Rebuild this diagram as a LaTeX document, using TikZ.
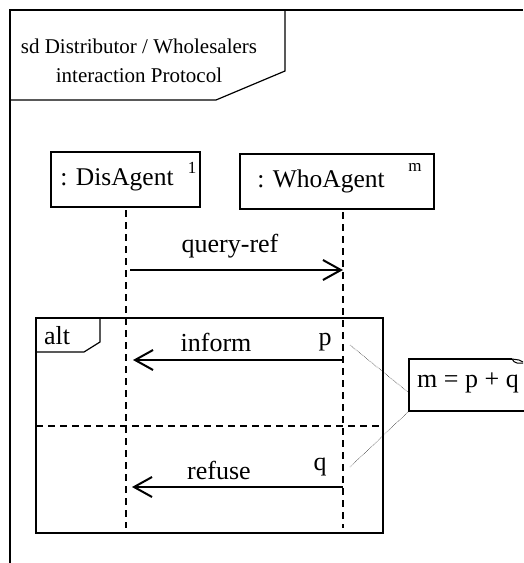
\documentclass[tikz,border=0pt]{standalone}
\usepackage{fontspec}
\setmainfont{Liberation Serif}
\usetikzlibrary{arrows.meta}
\begin{document}
\begin{tikzpicture}[x=1pt,y=-1pt,
  frameline/.style={line width=1.2pt},
  lifeline/.style={line width=1.5pt,dash pattern=on 7pt off 5pt},
  msg/.style={line width=2pt,-{Straight Barb[length=18pt,width=20pt,line width=2pt]}},
  lbl/.style={font=\fontsize{26}{28}\selectfont,inner sep=0pt},
  headlbl/.style={font=\fontsize{25.5}{28}\selectfont,inner sep=0pt},
  multlbl/.style={font=\fontsize{17}{19}\selectfont,inner sep=0pt},
  noteline/.style={line width=0.5pt,densely dotted}]
\useasboundingbox (0,0) rectangle (523,563);
% outer sd frame
\draw[frameline] (10,563) -- (10,10) -- (523,10);
\draw[frameline] (285,10) -- (285,71) -- (216,100) -- (10,100);
\node[align=center,font=\fontsize{21}{29}\selectfont,inner sep=0pt] (title) at (139,61)
  {sd Distributor / Wholesalers\\interaction Protocol};
% lifeline heads
\draw[line width=1.3pt] (51,152) rectangle (200,207);
\node[headlbl] (dis) at (117,180) {: DisAgent};
\node[multlbl] (disn) at (192,168) {1};
\draw[line width=1.3pt] (240,154) rectangle (434,209);
\node[headlbl] (who) at (321,181) {: WhoAgent};
\node[multlbl] (whon) at (415,167) {m};
% lifelines
\coordinate (d0) at (126,210);
\coordinate (d1) at (126,528);
\coordinate (w0) at (343,212);
\coordinate (w1) at (343,528);
\draw[lifeline] (d0) -- (d1);
\draw[lifeline] (w0) -- (w1);
% query-ref
\coordinate (qa) at (130,270);
\coordinate (qb) at (343,270);
\draw[msg] (qa) -- (qb);
\node[lbl] (qlbl) at (230,246) {query-ref};
% alt fragment
\draw[frameline] (36,318) rectangle (383,533);
\draw[frameline] (36,352) -- (84,352) -- (100,342) -- (100,318);
\node[lbl] (alt) at (57,336) {alt};
\draw[lifeline] (36,426) -- (383,426);
% inform
\coordinate (ia) at (343,360);
\coordinate (ib) at (133,360);
\draw[msg] (ia) -- (ib);
\node[lbl] (ilbl) at (216,342) {inform};
\node[lbl] (p) at (325,342) {p};
% refuse
\coordinate (ra) at (343,487);
\coordinate (rb) at (132,487);
\draw[msg] (ra) -- (rb);
\node[lbl] (rlbl) at (219,470) {refuse};
\node[lbl] (q) at (320,467) {q};
% note
\draw[line width=1.3pt] (512,359) -- (409,359) -- (409,411) -- (530,411);
\draw[line width=1pt] (512,359) -- (519,360) -- (523,362);
\draw[line width=1pt] (512,359) .. controls (514,362) .. (517,363) -- (523,363);
\node[font=\fontsize{26}{28}\selectfont,inner sep=0pt] (note) at (468,383) {m = p + q};
\coordinate (pn) at (350,345);
\coordinate (qn) at (350,467);
\draw[noteline] (pn) -- (409,393);
\draw[noteline] (409,411) -- (qn);
\end{tikzpicture}
\end{document}
